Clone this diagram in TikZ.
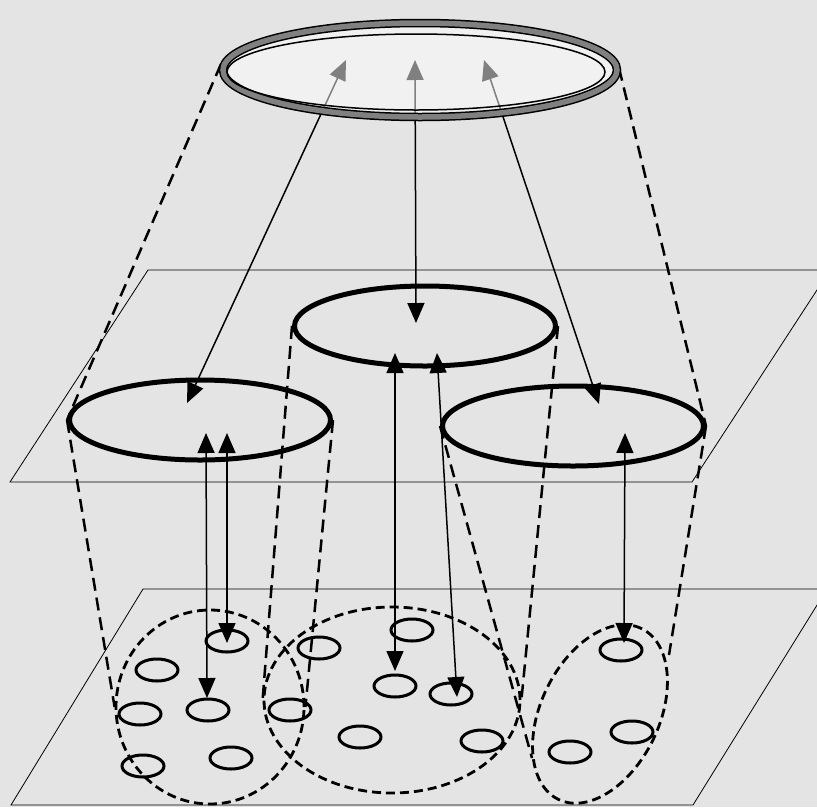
\documentclass[tikz,border=0pt]{standalone}
\usetikzlibrary{arrows.meta,shapes.geometric}
\definecolor{bg}{RGB}{228,228,228}
\definecolor{ringgray}{RGB}{128,128,128}
\begin{document}
\begin{tikzpicture}[x=1pt,y=-1pt,
  plane/.style={draw=black, line width=0.8pt},
  cone/.style={draw=black, line width=2.5pt, dash pattern=on 13pt off 7pt},
  group/.style={ellipse, draw=black, line width=2.8pt, dash pattern=on 9pt off 5pt, inner sep=0pt},
  mid/.style={ellipse, draw=black, line width=5pt, inner sep=0pt, minimum width=261pt, minimum height=80pt},
  item/.style={ellipse, draw=black, line width=3pt, inner sep=0pt, minimum width=42pt, minimum height=22pt},
  link/.style={line width=1.5pt, {Triangle[length=20pt,width=17pt]}-{Triangle[length=20pt,width=17pt]}},
]
\fill[bg] (0,0) rectangle (817,807);
\useasboundingbox (0,0) rectangle (817,807);
\clip (0,0) rectangle (817,807);

% planes
\draw[plane] (148,270) -- (830,270) -- (692,482) -- (10,482) -- cycle;
\draw[plane] (143,589) -- (827,589) -- (693,805) -- (11,805) -- cycle;

% middle ellipses
\node[mid] (L) at (200,420) {};
\node[mid] (C) at (425,326) {};
\node[mid] (R) at (573,426) {};

% group ellipses
\node[group, minimum width=188pt, minimum height=194pt] (G1) at (210,707) {};
\node[group, minimum width=256pt, minimum height=186pt] (G2) at (392,700) {};
\node[group, minimum width=190pt, minimum height=118pt, rotate=64] (G3) at (600,714) {};

% small items
\node[item] (s1) at (227,641) {};
\node[item] (s2) at (157,670) {};
\node[item] (s3) at (140,714) {};
\node[item] (s4) at (208,710) {};
\node[item] (s5) at (231,758) {};
\node[item] (s6) at (143,766) {};
\node[item] (s7) at (290,710) {};
\node[item] (s8) at (319,648) {};
\node[item] (s9) at (412,630) {};
\node[item] (s10) at (395,686) {};
\node[item] (s11) at (451,694) {};
\node[item] (s12) at (360,737) {};
\node[item] (s13) at (482,741) {};
\node[item] (s14) at (621,650) {};
\node[item] (s15) at (632,732) {};
\node[item] (s16) at (570,752) {};

% cone lines
\coordinate (tl) at (221,64);
\coordinate (tr) at (619,68);
\coordinate (g3l) at (532,758);
\coordinate (g3r) at (669,655);
\draw[cone] (tl) -- (L.west);
\draw[cone] (tr) -- (R.east);
\draw[cone] (L.west) -- (G1.west);
\draw[cone] (L.east) -- (G1.east);
\draw[cone] (C.west) -- (G2.west);
\draw[cone] (C.east) -- (G2.east);
\draw[cone] (R.west) -- (g3l);
\draw[cone] (R.east) -- (g3r);

% arrows
\coordinate (a1t) at (346,60);  \coordinate (a1b) at (187,403);
\coordinate (a2t) at (415,60);  \coordinate (a2b) at (416,323);
\coordinate (a3t) at (484,60);  \coordinate (a3b) at (599,404);
\coordinate (b1t) at (206,433); \coordinate (b1b) at (207,698);
\coordinate (b2t) at (227,433); \coordinate (b2b) at (227,643);
\coordinate (b3t) at (395,353); \coordinate (b3b) at (395,671);
\coordinate (b4t) at (437,353); \coordinate (b4b) at (457,697);
\coordinate (b5t) at (625,433); \coordinate (b5b) at (624,643);
\draw[link] (a1b) -- (a1t);
\draw[link] (a2b) -- (a2t);
\draw[link] (a3b) -- (a3t);
\draw[link] (b1t) -- (b1b);
\draw[link] (b2t) -- (b2b);
\draw[link] (b3t) -- (b3b);
\draw[link] (b4t) -- (b4b);
\draw[link] (b5t) -- (b5b);

% top ring
\node[ellipse, minimum width=394pt, minimum height=94pt, inner sep=0pt] (T) at (420,70) {};
\fill[white, opacity=0.5] (T.center) ellipse [x radius=197pt, y radius=47pt];
\draw[black, line width=8.5pt] (T.center) ellipse [x radius=197pt, y radius=47pt];
\draw[ringgray, line width=5.5pt] (T.center) ellipse [x radius=197pt, y radius=47pt];
\draw[black, line width=1.5pt] (416,72) ellipse [x radius=189pt, y radius=38pt];
\end{tikzpicture}
\end{document}
